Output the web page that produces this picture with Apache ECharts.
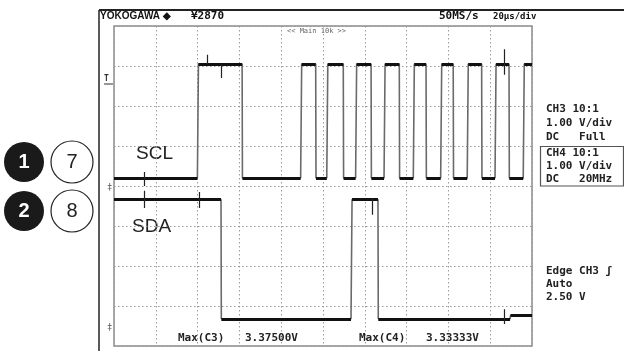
<!DOCTYPE html>
<html>
<head>
<meta charset="utf-8">
<script src="https://cdn.jsdelivr.net/npm/echarts@6/dist/echarts.min.js"></script>
<style>
  html, body { margin: 0; padding: 0; background: #fff; }
  #scope { width: 624px; height: 351px; }
</style>
</head>
<body>
<div id="scope"></div>
<script>
// time axis: 10 div x 20 us
var timeTicks = [0, 20, 40, 60, 80, 100, 120, 140, 160, 180, 200];

// SCL (CH3) edges in us, starts low, alternating rise / fall
var sclEdges = [39.9, 61.3, 89.3, 96.5, 101.8, 109.7, 115.6, 123.0, 129.2, 136.5,
                143.2, 149.3, 156.3, 162.3, 169.0, 175.9, 182.3, 189.0, 195.8];
var sclHigh = 7.05;
var sclLow = 4.2;

// SDA (CH4) edges in us, starts high, alternating fall / rise
var sdaEdges = [51.2, 113.4, 126.3];
var sdaHigh = 3.66;
var sdaLow = 0.68;
var sdaStep = [189.5, 0.76]; // small level shift near the end

// glitches [t, from, to]
var sclGlitches = [[14.4, 4.35, 4.0], [44.4, 7.05, 7.28], [51.5, 7.05, 6.7], [186.6, 7.42, 6.78]];
var sdaGlitches = [[14.4, 3.88, 3.45], [40.7, 3.85, 3.45], [123.4, 3.7, 3.28], [186.6, 0.92, 0.55]];

function buildTrace(edges, first, second) {
  var pts = [[0, first]];
  var lvl = first;
  edges.forEach(function (t) {
    var next = lvl === first ? second : first;
    pts.push([t, lvl]);
    pts.push([t + (next > lvl ? 0.5 : 0.15), next]);
    lvl = next;
  });
  pts.push([200, lvl]);
  return pts;
}

function flatParts(pts) {
  var segs = [];
  for (var i = 0; i < pts.length - 1; i++) {
    if (pts[i][1] === pts[i + 1][1]) segs.push({ coords: [pts[i], pts[i + 1]] });
  }
  return segs;
}

function glitchParts(list) {
  return list.map(function (g) {
    return { coords: [[g[0], g[1]], [g[0], g[2]]] };
  });
}

var sclPts = buildTrace(sclEdges, sclLow, sclHigh);
var sdaPts = buildTrace(sdaEdges, sdaHigh, sdaLow);
// last low part: put in the level step
sdaPts.pop();
sdaPts.push([sdaStep[0], sdaLow]);
sdaPts.push([sdaStep[0] + 0.2, sdaStep[1]]);
sdaPts.push([200, sdaStep[1]]);

var mono = '"DejaVu Sans Mono", monospace';
var txtColor = "#222";

function monoText(x, y, s, size) {
  return {
    type: "text", left: x, top: y,
    style: { text: s, fill: txtColor, font: "bold " + (size || 11) + "px " + mono }
  };
}

var myChart = echarts.init(document.getElementById("scope"));
var option = {
  animation: false,
  grid: {
    left: 114, top: 26, width: 418, height: 320,
    show: true, borderColor: "#8c8c8c", borderWidth: 1.5, backgroundColor: "#fff"
  },
  xAxis: {
    type: "value", min: 0, max: 200, interval: timeTicks[1] - timeTicks[0],
    axisLine: { show: false }, axisTick: { show: false }, axisLabel: { show: false },
    splitLine: { show: true, lineStyle: { color: "#9a9a9a", width: 1, type: [1.5, 2.5] } }
  },
  yAxis: {
    type: "value", min: 0, max: 8, interval: 1,
    axisLine: { show: false }, axisTick: { show: false }, axisLabel: { show: false },
    splitLine: { show: true, lineStyle: { color: "#9a9a9a", width: 1, type: [1.5, 2.5] } }
  },
  series: [
    {
      name: "SCL", type: "line", data: sclPts, symbol: "none",
      lineStyle: { color: "#6a6a6a", width: 1.6 }, z: 3
    },
    {
      name: "SDA", type: "line", data: sdaPts, symbol: "none",
      lineStyle: { color: "#6a6a6a", width: 1.6 }, z: 3
    },
    {
      name: "levels", type: "lines", coordinateSystem: "cartesian2d", polyline: false,
      data: flatParts(sclPts).concat(flatParts(sdaPts)),
      lineStyle: { color: "#111", width: 3, opacity: 1 }, z: 4
    },
    {
      name: "glitches", type: "lines", coordinateSystem: "cartesian2d",
      data: glitchParts(sclGlitches).concat(glitchParts(sdaGlitches)),
      lineStyle: { color: "#222", width: 1.2, opacity: 1 }, z: 4
    }
  ],
  graphic: [
    // outer frame
    { type: "line", shape: { x1: 99, y1: 10, x2: 624, y2: 10 }, style: { stroke: "#222", lineWidth: 2 } },
    { type: "line", shape: { x1: 99, y1: 10, x2: 99, y2: 351 }, style: { stroke: "#222", lineWidth: 1.5 } },
    // header
    { type: "text", left: 100, top: 11, style: { text: "YOKOGAWA \u25C6", fill: "#111", font: "bold 10px 'Liberation Sans'" } },
    { type: "text", left: 191, top: 11, style: { text: "\u00A52870", fill: "#111", font: "bold 11px " + mono } },
    { type: "text", left: 439, top: 11, style: { text: "50MS/s", fill: "#111", font: "bold 11px " + mono } },
    { type: "text", left: 493, top: 12, style: { text: "20\u00B5s/div", fill: "#111", font: "bold 9px " + mono } },
    { type: "text", left: 287, top: 28, style: { text: "<< Main 10k >>", fill: "#666", font: "7px " + mono } },
    // channel info
    monoText(546, 104, "CH3 10:1"),
    monoText(546, 118, "1.00 V/div"),
    monoText(546, 132, "DC   Full"),
    { type: "rect", shape: { x: 540.5, y: 146.5, width: 83, height: 39.5 }, style: { fill: "none", stroke: "#555", lineWidth: 1.2 } },
    monoText(546, 148, "CH4 10:1"),
    monoText(546, 161, "1.00 V/div"),
    monoText(546, 174, "DC   20MHz"),
    monoText(546, 266, "Edge CH3 \u0283"),
    monoText(546, 279, "Auto"),
    monoText(546, 292, "2.50 V"),
    // measurements
    monoText(178, 333, "Max(C3)"),
    monoText(245, 333, "3.37500V"),
    monoText(359, 333, "Max(C4)"),
    monoText(426, 333, "3.33333V"),
    // markers left of screen
    { type: "text", left: 104, top: 75, style: { text: "T", fill: "#333", font: "bold 8px " + mono } },
    { type: "line", shape: { x1: 104, y1: 84, x2: 113, y2: 84 }, style: { stroke: "#333", lineWidth: 1 } },
    { type: "text", left: 107, top: 183, style: { text: "\u2021", fill: "#555", font: "9px " + mono } },
    { type: "text", left: 107, top: 323, style: { text: "\u2021", fill: "#555", font: "9px " + mono } },
    // signal names
    { type: "text", left: 136, top: 144, style: { text: "SCL", fill: "#222", font: "19px 'Liberation Sans'" } },
    { type: "text", left: 132, top: 217, style: { text: "SDA", fill: "#222", font: "19px 'Liberation Sans'" } },
    // pin circles
    { type: "circle", shape: { cx: 24, cy: 162, r: 20 }, style: { fill: "#1a1a1a" } },
    { type: "text", x: 24, y: 162, style: { text: "1", fill: "#fff", font: "bold 20px 'Liberation Sans'", textAlign: "center", textVerticalAlign: "middle" } },
    { type: "circle", shape: { cx: 72, cy: 162, r: 21 }, style: { fill: "#fff", stroke: "#222", lineWidth: 1.2 } },
    { type: "text", x: 72, y: 162, style: { text: "7", fill: "#222", font: "20px 'Liberation Sans'", textAlign: "center", textVerticalAlign: "middle" } },
    { type: "circle", shape: { cx: 24, cy: 211, r: 20 }, style: { fill: "#1a1a1a" } },
    { type: "text", x: 24, y: 211, style: { text: "2", fill: "#fff", font: "bold 20px 'Liberation Sans'", textAlign: "center", textVerticalAlign: "middle" } },
    { type: "circle", shape: { cx: 72, cy: 211, r: 21 }, style: { fill: "#fff", stroke: "#222", lineWidth: 1.2 } },
    { type: "text", x: 72, y: 211, style: { text: "8", fill: "#222", font: "20px 'Liberation Sans'", textAlign: "center", textVerticalAlign: "middle" } }
  ]
};
myChart.setOption(option);
window.addEventListener("resize", () => {
  myChart.resize();
});
</script>
</body>
</html>
